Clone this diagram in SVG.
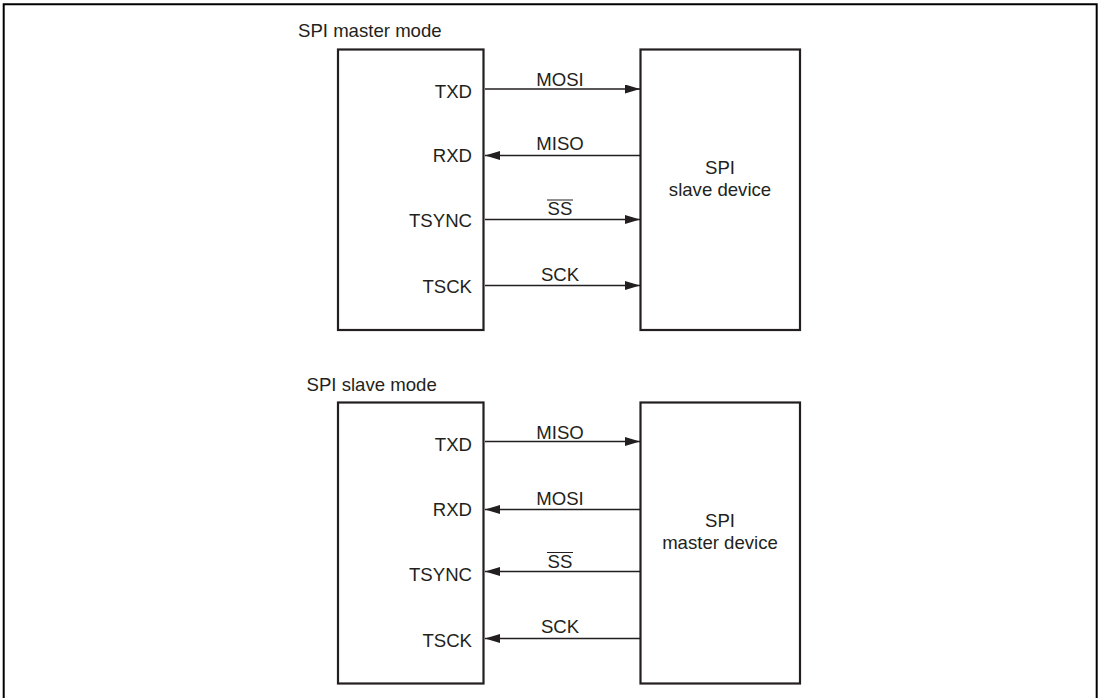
<svg xmlns="http://www.w3.org/2000/svg" width="1100" height="698" viewBox="0 0 1100 698">
<style>
  text { font-family: "Liberation Sans", Arial, sans-serif; font-size: 18.6px; fill: #231f20; }
  .r { text-anchor: end; }
  .c { text-anchor: middle; }
  .box { fill: #fff; stroke: #231f20; stroke-width: 2.2; }
  .wire { stroke: #231f20; stroke-width: 1.3; fill: none; }
  .ol { stroke: #231f20; stroke-width: 1; }
</style>
<defs>
  <marker id="ah" viewBox="0 0 15 9" refX="15" refY="4.5" markerWidth="15" markerHeight="9" markerUnits="userSpaceOnUse" orient="auto">
    <path d="M0,0 L15,4.5 L0,9 Z" fill="#231f20"/>
  </marker>
</defs>
<rect width="1100" height="698" fill="#fff"/>
<path d="M3.7,700 V4.3 H1096.7 V700" fill="none" stroke="#000" stroke-width="2"/>

<text x="298" y="37">SPI master mode</text>
<text x="306.5" y="391">SPI slave mode</text>

<g id="master-mode-controller">
  <rect class="box" x="338" y="49.5" width="145.5" height="280.5"/>
  <text class="r" x="472" y="98">TXD</text>
  <text class="r" x="472" y="162">RXD</text>
  <text class="r" x="472" y="226.5">TSYNC</text>
  <text class="r" x="472" y="292.5">TSCK</text>
</g>
<g id="spi-slave-device">
  <rect class="box" x="640.5" y="49.5" width="159.5" height="280.5"/>
  <text class="c" x="720" y="173.5">SPI</text>
  <text class="c" x="720" y="196">slave device</text>
</g>

<g id="slave-mode-controller">
  <rect class="box" x="338" y="402.5" width="145.5" height="281"/>
  <text class="r" x="472" y="451">TXD</text>
  <text class="r" x="472" y="516">RXD</text>
  <text class="r" x="472" y="580.5">TSYNC</text>
  <text class="r" x="472" y="646.5">TSCK</text>
</g>
<g id="spi-master-device">
  <rect class="box" x="640.5" y="402.5" width="159.5" height="281"/>
  <text class="c" x="720" y="526.5">SPI</text>
  <text class="c" x="720" y="548.5">master device</text>
</g>

<g id="connectors">
  <line class="wire" x1="485" y1="89" x2="640" y2="89" marker-end="url(#ah)"/>
  <line class="wire" x1="640" y1="155.5" x2="485" y2="155.5" marker-end="url(#ah)"/>
  <line class="wire" x1="485" y1="219.5" x2="640" y2="219.5" marker-end="url(#ah)"/>
  <line class="wire" x1="485" y1="285.5" x2="640" y2="285.5" marker-end="url(#ah)"/>

  <line class="wire" x1="485" y1="441.5" x2="640" y2="441.5" marker-end="url(#ah)"/>
  <line class="wire" x1="640" y1="509.5" x2="485" y2="509.5" marker-end="url(#ah)"/>
  <line class="wire" x1="640" y1="571.5" x2="485" y2="571.5" marker-end="url(#ah)"/>
  <line class="wire" x1="640" y1="638.5" x2="485" y2="638.5" marker-end="url(#ah)"/>

  <text class="c" x="560" y="85.5">MOSI</text>
  <text class="c" x="560" y="150">MISO</text>
  <text class="c" x="560" y="215">SS</text>
  <line class="ol" x1="547" y1="200" x2="573" y2="200"/>
  <text class="c" x="560" y="280.5">SCK</text>

  <text class="c" x="560" y="438.5">MISO</text>
  <text class="c" x="560" y="504.5">MOSI</text>
  <text class="c" x="560" y="567.5">SS</text>
  <line class="ol" x1="547" y1="552.5" x2="573" y2="552.5"/>
  <text class="c" x="560" y="632.5">SCK</text>
</g>
</svg>
